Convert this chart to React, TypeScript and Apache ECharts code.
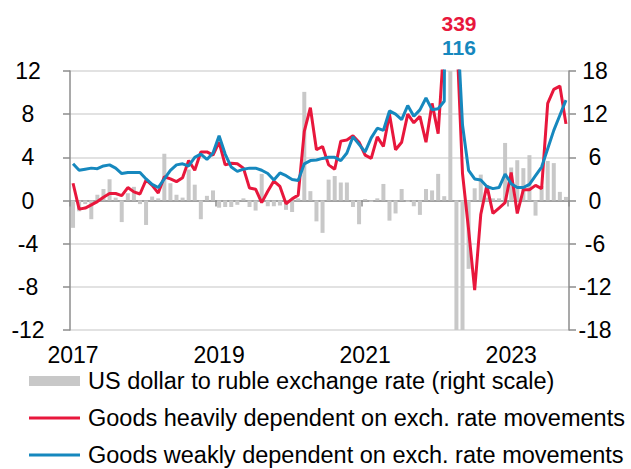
import React, { useEffect, useRef } from 'react';
import * as echarts from 'echarts';

// Monthly observations, Jan 2017 – Oct 2023
const START_YEAR = 2017;
const MONTHS: string[] = [];
for (let i = 0; i < 82; i++) {
  MONTHS.push(`${START_YEAR + Math.floor(i / 12)}-${String((i % 12) + 1).padStart(2, '0')}`);
}

const YEAR_LABELS = ['2017', '2019', '2021', '2023'];

// US dollar to ruble exchange rate (right scale)
const USD_RUB = [
  -3.8, -1.5, -0.5, -2.6, 0.8, 1.6, 2.95, 0.4, -3.0, 1.0, 1.9, -0.5,
  -3.4, 0.55, 0.3, 6.5, 2.4, 0.8, 0.4, 4.3, 2.2, -2.6, 0.65, 1.4,
  -1.0, -0.9, -0.9, -0.6, 0.3, -0.9, -1.4, 3.7, -0.8, -0.8, -0.7, -1.3,
  -1.6, 0.3, 15.1, 1.3, -2.9, -4.5, 2.9, 3.4, 2.5, 2.5, -0.9, -3.3,
  0.2, -0.2, 0.3, 2.3, -2.8, -1.8, 1.6, -0.2, -0.8, -2.0, 1.6, 1.4,
  3.7, 0.6, 25, -25, -25, -9.5, 1.7, 3.6, 0.4, 0.3, 0.3, 8.0,
  4.6, 5.6, 4.5, 6.3, -2.1, 2.0, 5.5, 5.2, 1.2, 0.5,
];

// Goods heavily dependent on exchange rate movements
const HEAVY = [
  1.6, -0.8, -0.7, -0.4, -0.1, 0.3, 0.65, 0.65, 0.45, 1.2, 0.8, 0.6,
  1.9, 1.4, 0.7, 2.2, 2.0, 1.75, 2.1, 3.7, 2.8, 4.5, 4.5, 4.2,
  5.4, 3.3, 3.45, 3.4, 3.0, 1.15, 1.05, -0.2, 0.85, 1.8, 1.3, -0.3,
  0.15, 0.5, 6.4, 8.6, 4.7, 5.0, 3.3, 2.9, 5.5, 5.6, 6.0, 5.4,
  4.2, 3.9, 5.9, 5.0, 8.0, 4.7, 5.4, 8.0, 7.2, 7.8, 5.4, 9.0,
  6.2, 15, 339, 16, 2.5, -2.7, -8.3, -1.3, 1.4, -1.2, -0.7, -0.2,
  2.6, -1.2, 1.0, 1.0, 1.4, 1.1, 9.0, 10.3, 10.6, 7.1,
];

// Goods weakly dependent on exchange rate movements
const WEAK = [
  3.4, 2.8, 2.9, 3.0, 2.95, 3.2, 3.3, 3.0, 2.5, 2.6, 2.6, 2.6,
  2.0, 1.5, 1.2, 2.0, 2.8, 3.3, 3.4, 3.2, 4.0, 4.3, 3.8, 4.4,
  6.0, 4.3, 3.1, 2.7, 2.9, 3.0, 3.0, 2.8, 2.5, 1.9, 2.55, 2.3,
  1.95, 1.85, 3.4, 3.7, 3.75, 3.9, 4.0, 4.0, 3.7, 4.4, 5.9, 5.2,
  4.5, 5.8, 6.7, 6.5, 8.3, 8.0, 7.5, 8.8, 7.8, 8.4, 9.5, 8.4,
  8.5, 9.2, 116, 18, 7.0, 2.8, 2.0, 1.9, 1.3, 1.1, 1.2, 2.45,
  1.55, 1.2, 1.2, 1.5, 2.3, 3.1, 4.8, 6.5, 7.9, 9.3,
];

const PEAK_LABELS = ['339', '116'];

const NAMES = [
  'US dollar to ruble exchange rate (right scale)',
  'Goods heavily dependent on exch. rate movements',
  'Goods weakly dependent on exch. rate movements',
];

const RED = '#E8173C';
const BLUE = '#1688BE';
const GRAY = '#C8C8C8';
const FONT = "'Liberation Sans', Arial, sans-serif";
const LINE_ICON = 'path://M0 0H51V3H0Z';

export default function App() {
  const ref = useRef<HTMLDivElement>(null);

  useEffect(() => {
    document.body.style.margin = '0';
    const chart = echarts.init(ref.current!, undefined, { renderer: 'svg' });
    const axisGray = '#8C8C8C';
    chart.setOption({
      animation: false,
      textStyle: { fontFamily: FONT },
      grid: { left: 70, right: 62, top: 71, bottom: 139, containLabel: false },
      legend: {
        orient: 'vertical',
        left: 29,
        top: 369,
        padding: 0,
        itemWidth: 51,
        itemHeight: 10,
        itemGap: 13,
        symbolKeepAspect: true,
        textStyle: { fontSize: 23.5, color: '#000', fontFamily: FONT, padding: [0, 0, 0, 3] },
        data: [
          { name: NAMES[0], icon: 'rect' },
          { name: NAMES[1], icon: LINE_ICON },
          { name: NAMES[2], icon: LINE_ICON },
        ],
      },
      xAxis: [
        {
          type: 'category',
          data: MONTHS,
          boundaryGap: true,
          position: 'bottom',
          axisLine: { show: false, onZero: false },
          axisTick: { show: false },
          axisLabel: {
            interval: 23,
            margin: 13,
            fontSize: 23,
            color: '#000',
            fontFamily: FONT,
            formatter: (v: string) => {
              const y = v.slice(0, 4);
              return YEAR_LABELS.includes(y) && v.endsWith('-01') ? y : '';
            },
          },
          splitLine: { show: false },
        },
        {
          type: 'category',
          data: MONTHS,
          boundaryGap: true,
          position: 'bottom',
          axisLine: { show: true, onZero: true, lineStyle: { color: axisGray, width: 1.5 } },
          axisTick: { show: true, interval: 23, length: 6, lineStyle: { color: axisGray, width: 1.5 } },
          axisLabel: { show: false },
          splitLine: { show: false },
        },
      ],
      yAxis: [
        {
          type: 'value',
          min: -12,
          max: 12,
          interval: 4,
          position: 'left',
          axisLine: { show: true, lineStyle: { color: axisGray, width: 1.5 } },
          axisTick: { show: true, length: 7, lineStyle: { color: axisGray, width: 1.5 } },
          axisLabel: { fontSize: 23, color: '#000', align: 'center', margin: 42, fontFamily: FONT },
          splitLine: { show: true, lineStyle: { color: '#D9D9D9', width: 1.5 } },
        },
        {
          type: 'value',
          min: -18,
          max: 18,
          interval: 6,
          position: 'right',
          axisLine: { show: true, lineStyle: { color: axisGray, width: 1.5 } },
          axisTick: { show: true, length: 7, lineStyle: { color: axisGray, width: 1.5 } },
          axisLabel: { fontSize: 23, color: '#000', align: 'center', margin: 26, fontFamily: FONT },
          splitLine: { show: false },
        },
      ],
      series: [
        {
          name: NAMES[0],
          type: 'bar',
          xAxisIndex: 0,
          yAxisIndex: 1,
          data: USD_RUB,
          barWidth: 4,
          itemStyle: { color: GRAY },
          clip: true,
        },
        {
          name: NAMES[1],
          type: 'line',
          xAxisIndex: 0,
          yAxisIndex: 0,
          data: HEAVY,
          symbol: 'none',
          lineStyle: { color: RED, width: 3 },
          itemStyle: { color: RED },
          clip: true,
        },
        {
          name: NAMES[2],
          type: 'line',
          xAxisIndex: 0,
          yAxisIndex: 0,
          data: WEAK,
          symbol: 'none',
          lineStyle: { color: BLUE, width: 3 },
          itemStyle: { color: BLUE },
          clip: true,
        },
      ],
      graphic: [
        {
          type: 'text',
          x: 459,
          y: 23,
          style: { text: PEAK_LABELS[0], fill: RED, font: `bold 21px ${FONT}`, align: 'center', verticalAlign: 'middle' },
        },
        {
          type: 'text',
          x: 459,
          y: 47,
          style: { text: PEAK_LABELS[1], fill: BLUE, font: `bold 21px ${FONT}`, align: 'center', verticalAlign: 'middle' },
        },
      ],
    });
    return () => chart.dispose();
  }, []);

  return <div ref={ref} style={{ width: 631, height: 469 }} />;
}
